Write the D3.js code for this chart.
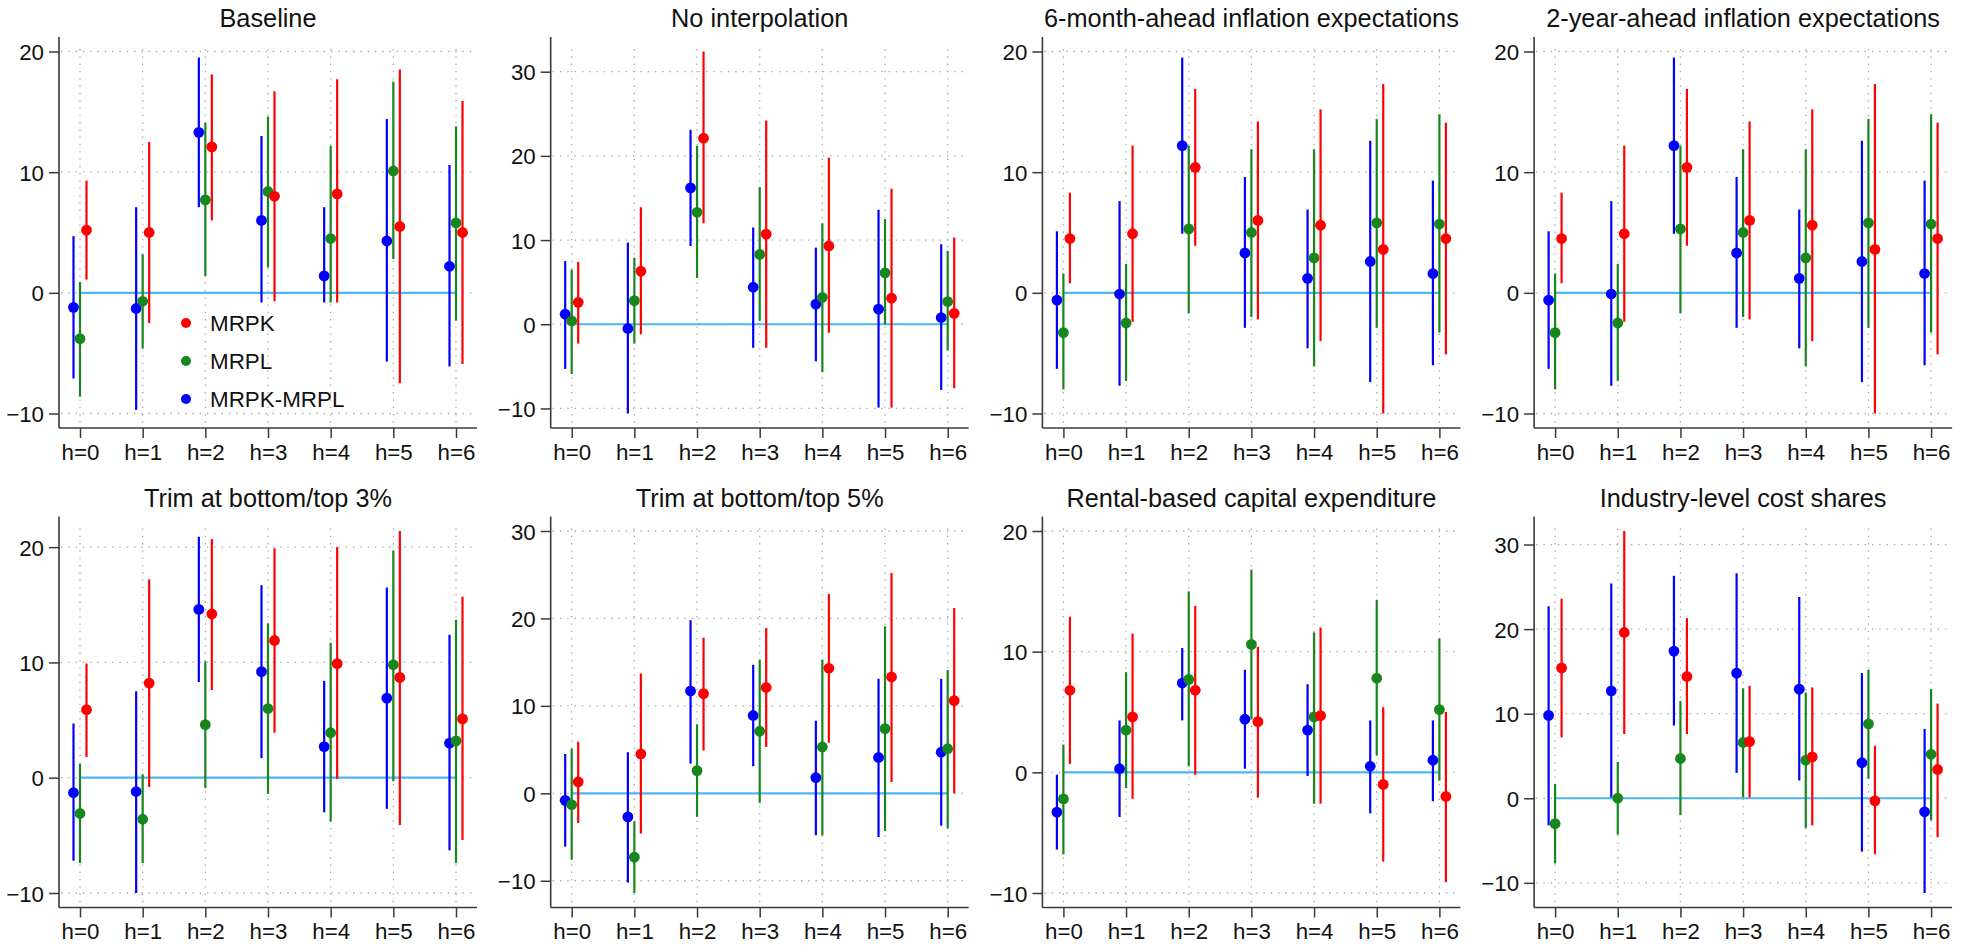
<!DOCTYPE html>
<meta charset="utf-8">
<style>
body { margin: 0; background: #fff; }
svg { display: block; background: #fff; }
text { font-family: "Liberation Sans", Arial, Helvetica, sans-serif; }
.title { font-size: 25.3px; fill: #111; text-anchor: middle; }
.axis text { font-size: 22.3px; fill: #111; }
.axis line { stroke: #3a3a3a; stroke-width: 1.5px; }
.axis-line { stroke: #3a3a3a; stroke-width: 1.6px; }
.grid line { stroke: #a8a8a8; stroke-width: 1.3px; stroke-dasharray: 1.4 5.9; }
.zero { stroke: #4cb6f5; stroke-width: 2.2px; }
.legend text { font-size: 22.4px; fill: #111; }
</style>
<body>
<script src="https://d3js.org/d3.v7.min.js"></script>
<script>

// horizons and series
var horizons = ["h=0", "h=1", "h=2", "h=3", "h=4", "h=5", "h=6"];
var seriesNames = ["MRPK", "MRPL", "MRPK-MRPL"];

var panelTitles = ["Baseline", "No interpolation", "6-month-ahead inflation expectations",
  "2-year-ahead inflation expectations", "Trim at bottom/top 3%", "Trim at bottom/top 5%",
  "Rental-based capital expenditure", "Industry-level cost shares"];

var ticksTo20 = [-10, 0, 10, 20];
var ticksTo30 = [-10, 0, 10, 20, 30];

// each entry: [estimate, lower, upper]
var baselineMRPK = [[5.2,1.1,9.3],[5.0,-2.5,12.5],[12.1,6.0,18.1],[8.0,-0.7,16.7],[8.2,-0.8,17.7],[5.5,-7.5,18.5],[5.0,-5.9,15.9]];
var baselineMRPL = [[-3.8,-8.6,0.9],[-0.7,-4.6,3.2],[7.7,1.4,14.1],[8.4,2.1,14.6],[4.5,-0.8,12.2],[10.1,2.8,17.5],[5.8,-2.3,13.8]];
var baselineDiff = [[-1.2,-7.1,4.7],[-1.3,-9.7,7.1],[13.3,7.1,19.5],[6.0,-0.8,13.0],[1.4,-0.8,7.1],[4.3,-5.7,14.4],[2.2,-6.1,10.6]];

var noInterpMRPK = [[2.6,-2.3,7.4],[6.3,-1.2,13.9],[22.1,12.0,32.4],[10.7,-2.8,24.2],[9.3,-1.0,19.8],[3.1,-9.9,16.1],[1.3,-7.6,10.3]];
var noInterpMRPL = [[0.4,-5.9,6.5],[2.8,-2.3,7.9],[13.3,5.5,21.2],[8.3,0.4,16.3],[3.2,-5.7,12.0],[6.1,0.0,12.5],[2.7,-3.1,8.7]];
var noInterpDiff = [[1.2,-5.3,7.5],[-0.5,-10.6,9.7],[16.2,9.3,23.1],[4.4,-2.8,11.5],[2.4,-4.4,9.1],[1.8,-9.9,13.6],[0.8,-7.8,9.5]];

var infl6mMRPK = [[4.5,0.8,8.3],[4.9,-2.4,12.2],[10.4,3.9,16.9],[6.0,-2.2,14.2],[5.6,-4.0,15.2],[3.6,-10.0,17.3],[4.5,-5.1,14.1]];
var infl6mMRPL = [[-3.3,-8.0,1.6],[-2.5,-7.3,2.4],[5.3,-1.7,12.2],[5.0,-2.0,11.9],[2.9,-6.1,11.9],[5.8,-2.9,14.4],[5.7,-3.3,14.8]];
var infl6mDiff = [[-0.6,-6.3,5.1],[-0.1,-7.7,7.6],[12.2,4.9,19.5],[3.3,-2.9,9.6],[1.2,-4.6,6.9],[2.6,-7.4,12.6],[1.6,-6.0,9.3]];

var infl2yMRPK = [[4.5,0.8,8.3],[4.9,-2.4,12.2],[10.4,3.9,16.9],[6.0,-2.2,14.2],[5.6,-4.0,15.2],[3.6,-10.0,17.3],[4.5,-5.1,14.1]];
var infl2yMRPL = [[-3.3,-8.0,1.6],[-2.5,-7.3,2.4],[5.3,-1.7,12.2],[5.0,-2.0,11.9],[2.9,-6.1,11.9],[5.8,-2.9,14.4],[5.7,-3.3,14.8]];
var infl2yDiff = [[-0.6,-6.3,5.1],[-0.1,-7.7,7.6],[12.2,4.9,19.5],[3.3,-2.9,9.6],[1.2,-4.6,6.9],[2.6,-7.4,12.6],[1.6,-6.0,9.3]];

var trim3MRPK = [[5.9,1.8,9.9],[8.2,-0.8,17.2],[14.2,7.6,20.7],[11.9,3.9,19.9],[9.9,-0.1,20.0],[8.7,-4.1,21.4],[5.1,-5.4,15.7]];
var trim3MRPL = [[-3.1,-7.4,1.2],[-3.6,-7.4,0.3],[4.6,-0.9,10.1],[6.0,-1.4,13.4],[3.9,-3.8,11.7],[9.8,-0.3,19.7],[3.2,-7.4,13.7]];
var trim3Diff = [[-1.3,-7.2,4.7],[-1.2,-10.0,7.5],[14.6,8.3,20.9],[9.2,1.7,16.7],[2.7,-3.0,8.4],[6.9,-2.7,16.5],[3.0,-6.3,12.4]];

var trim5MRPK = [[1.3,-3.4,5.9],[4.5,-4.6,13.7],[11.4,4.9,17.8],[12.1,5.3,18.9],[14.3,5.8,22.8],[13.3,1.3,25.2],[10.6,0.0,21.2]];
var trim5MRPL = [[-1.3,-7.6,5.1],[-7.3,-11.4,-3.2],[2.6,-2.7,7.9],[7.1,-1.1,15.3],[5.3,-4.8,15.3],[7.4,-4.3,19.1],[5.1,-4.0,14.1]];
var trim5Diff = [[-0.8,-6.1,4.5],[-2.7,-10.2,4.7],[11.7,3.4,19.8],[8.9,3.1,14.7],[1.8,-4.8,8.3],[4.1,-5.0,13.1],[4.7,-3.7,13.1]];

var rentalMRPK = [[6.8,0.7,12.9],[4.6,-2.2,11.5],[6.8,-0.2,13.8],[4.2,-2.1,10.4],[4.7,-2.6,12.0],[-1.0,-7.4,5.4],[-2.0,-9.1,5.0]];
var rentalMRPL = [[-2.2,-6.8,2.3],[3.5,-1.3,8.3],[7.7,0.5,15.0],[10.6,4.4,16.8],[4.6,-2.6,11.6],[7.8,1.4,14.3],[5.2,-0.7,11.1]];
var rentalDiff = [[-3.3,-6.4,-0.2],[0.3,-3.7,4.3],[7.4,4.3,10.3],[4.4,0.3,8.5],[3.5,-0.3,7.3],[0.5,-3.4,4.3],[1.0,-2.4,4.3]];

var industryMRPK = [[15.4,7.2,23.6],[19.6,7.6,31.6],[14.4,7.6,21.3],[6.7,0.1,13.3],[4.9,-3.2,13.1],[-0.3,-6.6,6.2],[3.4,-4.6,11.2]];
var industryMRPL = [[-3.0,-7.7,1.7],[0.0,-4.3,4.3],[4.7,-2.0,11.5],[6.6,0.1,13.0],[4.5,-3.5,12.5],[8.8,2.3,15.2],[5.2,-2.6,12.9]];
var industryDiff = [[9.8,-3.2,22.7],[12.7,0.1,25.4],[17.4,8.6,26.3],[14.8,3.0,26.6],[12.9,2.1,23.8],[4.2,-6.3,14.8],[-1.6,-11.2,8.2]];

// table of panels built from the arrays above
var panels = [
  { mrpk: baselineMRPK, mrpl: baselineMRPL, diff: baselineDiff, ticks: ticksTo20, legend: true },
  { mrpk: noInterpMRPK, mrpl: noInterpMRPL, diff: noInterpDiff, ticks: ticksTo30 },
  { mrpk: infl6mMRPK, mrpl: infl6mMRPL, diff: infl6mDiff, ticks: ticksTo20 },
  { mrpk: infl2yMRPK, mrpl: infl2yMRPL, diff: infl2yDiff, ticks: ticksTo20 },
  { mrpk: trim3MRPK, mrpl: trim3MRPL, diff: trim3Diff, ticks: ticksTo20 },
  { mrpk: trim5MRPK, mrpl: trim5MRPL, diff: trim5Diff, ticks: ticksTo30 },
  { mrpk: rentalMRPK, mrpl: rentalMRPL, diff: rentalDiff, ticks: ticksTo20 },
  { mrpk: industryMRPK, mrpl: industryMRPL, diff: industryDiff, ticks: ticksTo30 }
];
panels.forEach(function(p, i) { p.title = panelTitles[i]; });

var colors = { mrpk: "#ff0000", mrpl: "#17861c", diff: "#0000ff" };
// drawing order and horizontal offset inside each horizon group
var layers = [
  { key: "diff", dx: -6.5 },
  { key: "mrpl", dx: 0 },
  { key: "mrpk", dx: 6.5 }
];

var width = 1973, height = 948;
var colW = 491.7, rowH = 479.5;

var svg = d3.select("body").append("svg")
    .attr("width", width)
    .attr("height", height);

panels.forEach(function(p, i) {
  var left = (i % 4) * colW,
      top = Math.floor(i / 4) * rowH;

  var axisX = left + 59,
      xEnd = left + 477,
      yTop = top + 37,
      yBot = top + 428;

  var x = d3.scalePoint()
      .domain(horizons)
      .range([axisX + 21, left + 456]);

  var all = [];
  ["mrpk", "mrpl", "diff"].forEach(function(k) {
    p[k].forEach(function(d) { all.push(d[1], d[2]); });
  });
  var y = d3.scaleLinear()
      .domain(d3.extent(all.concat(p.ticks)))
      .range([yBot - 14.5, yTop + 14.5]);

  var g = svg.append("g");

  // title
  g.append("text")
      .attr("class", "title")
      .attr("x", (axisX + xEnd) / 2)
      .attr("y", top + 27)
      .text(p.title);

  // grid
  var grid = g.append("g").attr("class", "grid");
  grid.selectAll(".gy")
    .data(p.ticks)
    .enter().append("line")
      .attr("x1", axisX + 2)
      .attr("x2", xEnd)
      .attr("y1", function(d) { return y(d); })
      .attr("y2", function(d) { return y(d); });
  grid.selectAll(".gx")
    .data(horizons)
    .enter().append("line")
      .attr("x1", function(d) { return x(d); })
      .attr("x2", function(d) { return x(d); })
      .attr("y1", yTop + 12)
      .attr("y2", yBot - 2);

  // zero line
  g.append("line")
      .attr("class", "zero")
      .attr("x1", x(horizons[0]))
      .attr("x2", x(horizons[horizons.length - 1]))
      .attr("y1", y(0))
      .attr("y2", y(0));

  // axes
  var xAxis = g.append("g")
      .attr("class", "axis")
      .attr("transform", "translate(0," + yBot + ")")
      .call(d3.axisBottom(x).tickSize(10).tickPadding(6));
  xAxis.select(".domain").remove();

  var yAxis = g.append("g")
      .attr("class", "axis")
      .attr("transform", "translate(" + axisX + ",0)")
      .call(d3.axisLeft(y).tickValues(p.ticks).tickSize(10).tickPadding(5).tickFormat(d3.format("d")));
  yAxis.select(".domain").remove();
  yAxis.selectAll("text").attr("dy", "0.36em");

  g.append("line").attr("class", "axis-line")
      .attr("x1", axisX).attr("x2", xEnd)
      .attr("y1", yBot).attr("y2", yBot);
  g.append("line").attr("class", "axis-line")
      .attr("x1", axisX).attr("x2", axisX)
      .attr("y1", yTop).attr("y2", yBot);

  // error bars and points
  layers.forEach(function(layer) {
    var s = g.append("g");
    s.selectAll("line")
      .data(p[layer.key])
      .enter().append("line")
        .attr("x1", function(d, j) { return x(horizons[j]) + layer.dx; })
        .attr("x2", function(d, j) { return x(horizons[j]) + layer.dx; })
        .attr("y1", function(d) { return y(d[1]); })
        .attr("y2", function(d) { return y(d[2]); })
        .attr("stroke", colors[layer.key])
        .attr("stroke-width", 2.2);
    s.selectAll("circle")
      .data(p[layer.key])
      .enter().append("circle")
        .attr("cx", function(d, j) { return x(horizons[j]) + layer.dx; })
        .attr("cy", function(d) { return y(d[0]); })
        .attr("r", 5.4)
        .attr("fill", colors[layer.key]);
  });

  // legend (first panel only)
  if (p.legend) {
    var keys = ["mrpk", "mrpl", "diff"];
    var lg = g.append("g").attr("class", "legend");
    lg.selectAll("circle")
      .data(keys)
      .enter().append("circle")
        .attr("cx", left + 186)
        .attr("cy", function(d, j) { return top + 323 + j * 38; })
        .attr("r", 5)
        .attr("fill", function(d) { return colors[d]; });
    lg.selectAll("text")
      .data(keys)
      .enter().append("text")
        .attr("x", left + 210)
        .attr("y", function(d, j) { return top + 331 + j * 38; })
        .text(function(d, j) { return seriesNames[j]; });
  }
});

</script>
</body>
